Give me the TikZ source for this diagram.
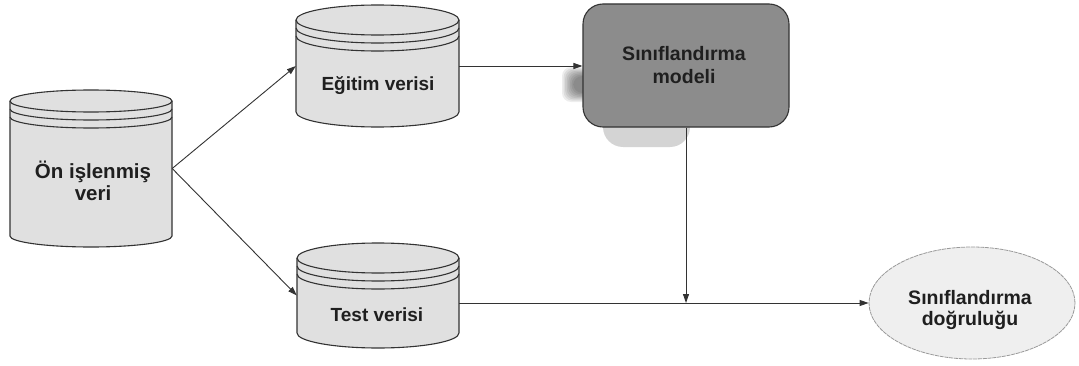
\documentclass[tikz,border=0pt]{standalone}
\usepackage{fontspec}
\setmainfont{Liberation Sans}
\usetikzlibrary{arrows.meta,shapes.geometric}
\definecolor{cylfill}{HTML}{E0E0E0}
\definecolor{linecol}{HTML}{333333}
\definecolor{modelfill}{HTML}{8C8C8C}
\definecolor{ovalfill}{HTML}{EFEFEF}
\definecolor{shadowlight}{HTML}{D4D4D4}
\tikzset{
  cylline/.style={draw=linecol, line width=1.1pt},
  cylnode/.style={draw=none, fill=none, inner sep=0pt, rectangle},
  lbl/.style={font=\bfseries\fontsize{19}{22}\selectfont, text=black!88, align=center, inner sep=0pt},
  arr/.style={draw=linecol, line width=0.9pt, -{Triangle[length=9pt,width=6pt]}},
  modelbox/.style={draw=linecol, line width=1.1pt, fill=modelfill, rounded corners=20pt, minimum width=206pt, minimum height=123pt, inner sep=0pt},
  oval/.style={ellipse, draw=gray!80, line width=0.8pt, dash pattern=on 4pt off 0.8pt, fill=ovalfill, minimum width=206pt, minimum height=112pt, inner sep=0pt}
}
% #1 cx, #2 rx, #3 top centre y, #4 bottom centre y, #5 ry
\newcommand\mycyl[5]{%
  \fill[cylfill] (#1-#2,#3) -- (#1-#2,#4) arc[start angle=180,end angle=360,x radius=#2pt,y radius=#5pt]
     -- (#1+#2,#3) arc[start angle=0,end angle=180,x radius=#2pt,y radius=#5pt] -- cycle;
  \draw[cylline] (#1,#3) ellipse[x radius=#2pt,y radius=#5pt];
  \draw[cylline] (#1-#2,#3) -- (#1-#2,#4) arc[start angle=180,end angle=360,x radius=#2pt,y radius=#5pt] -- (#1+#2,#3);
  \draw[cylline] (#1-#2,#3-8) arc[start angle=180,end angle=360,x radius=#2pt,y radius=#5pt];
  \draw[cylline] (#1-#2,#3-16) arc[start angle=180,end angle=360,x radius=#2pt,y radius=#5pt];
}
\begin{document}
\begin{tikzpicture}[x=1pt,y=1pt]
\useasboundingbox (0,0) rectangle (1079,365);
\fill[white] (0,0) rectangle (1079,365);

% cylinders
\mycyl{91}{81}{264}{129}{11}
\node[cylnode, minimum width=162pt, minimum height=157pt] (pre) at (91,196.5) {};
\node[lbl, anchor=base, font=\bfseries\fontsize{20.5}{22}\selectfont] (pretxt) at (93,165) {Ön işlenmiş\\veri};

\mycyl{377.5}{81.5}{345}{253}{15}
\node[cylnode, minimum width=163pt, minimum height=122pt] (egitim) at (377.5,299) {};
\node[lbl, anchor=base] (egitimtxt) at (378,275) {Eğitim verisi};

\mycyl{378}{81}{107}{32}{15}
\node[cylnode, minimum width=162pt, minimum height=105pt] (test) at (378,69.5) {};
\node[lbl, anchor=base] (testtxt) at (377,43.5) {Test verisi};

% model shadow
\fill[shadowlight, rounded corners=20pt] (603,305) rectangle (690,218);
\foreach \i in {0,...,7}{
  \fill[black, opacity=0.07, rounded corners=9pt] (562+\i*1.6,263+\i*1.3) rectangle (600,298-\i*1.3);
}
\node[modelbox] (model) at (686,299.5) {};
\node[lbl, anchor=base, font=\bfseries\fontsize{19.5}{23}\selectfont] (modeltxt) at (684,282) {Sınıflandırma\\modeli};

% accuracy oval
\node[oval] (dogruluk) at (972,62) {};
\node[lbl, anchor=base, font=\bfseries\fontsize{19.5}{21}\selectfont] (dogruluktxt) at (970,40) {Sınıflandırma\\doğruluğu};

% connectors
\draw[arr] (pre.east) -- (egitim.west);
\draw[arr] (pre.east) -- (test.west);
\draw[arr] (egitim.east) -- (egitim.east -| model.west);
\draw[arr] (test.east |- dogruluk.west) -- (dogruluk.west);
\draw[arr] (model.south) -- (model.south |- dogruluk.west);
\end{tikzpicture}
\end{document}
